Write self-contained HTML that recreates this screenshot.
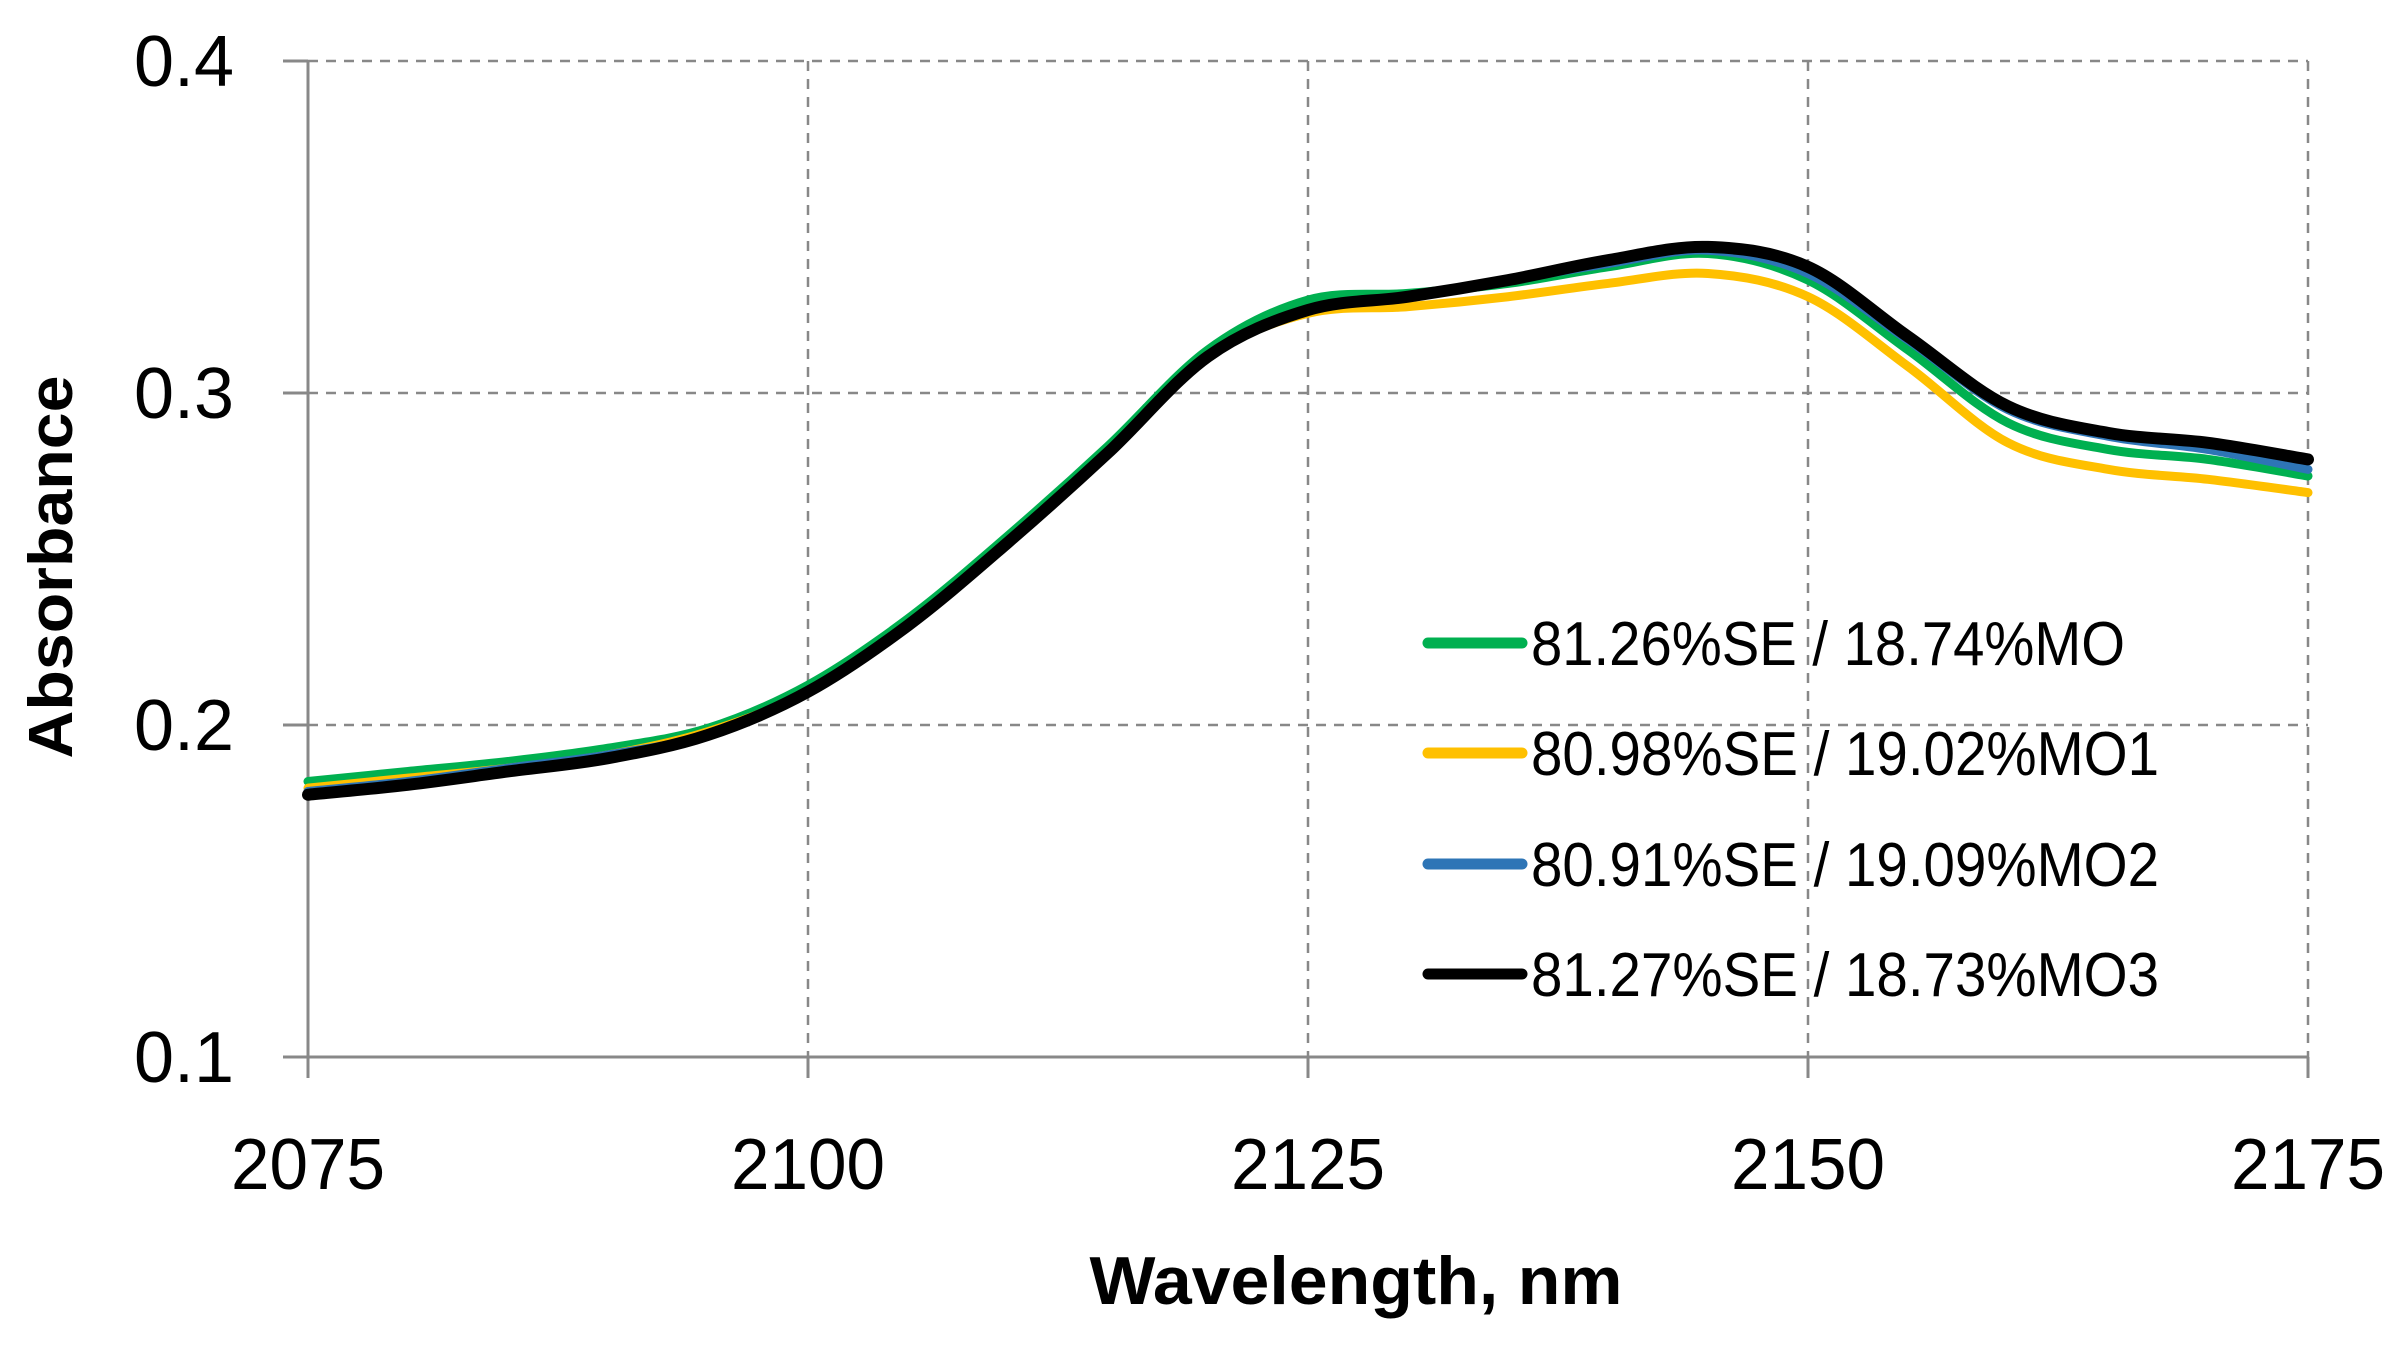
<!DOCTYPE html>
<html><head><meta charset="utf-8"><style>
html,body{margin:0;padding:0;background:#fff;}
svg{display:block;}
text{font-family:"Liberation Sans",sans-serif;fill:#000;}
</style></head><body>
<svg id="s" width="2401" height="1345" viewBox="0 0 2401 1345" xmlns="http://www.w3.org/2000/svg">
<rect width="2401" height="1345" fill="#fff"/>
<g stroke="#888" stroke-width="2.5" stroke-dasharray="10,8" fill="none">
<line x1="308" y1="61" x2="2308" y2="61"/>
<line x1="308" y1="393" x2="2308" y2="393"/>
<line x1="308" y1="725" x2="2308" y2="725"/>
<line x1="808" y1="61" x2="808" y2="1057"/>
<line x1="1308" y1="61" x2="1308" y2="1057"/>
<line x1="1808" y1="61" x2="1808" y2="1057"/>
<line x1="2308" y1="61" x2="2308" y2="1057"/>
</g>
<g stroke="#888" stroke-width="3" fill="none">
<line x1="308" y1="61" x2="308" y2="1078"/>
<line x1="283" y1="1057" x2="2308" y2="1057"/>
<line x1="283" y1="61" x2="308" y2="61"/>
<line x1="283" y1="393" x2="308" y2="393"/>
<line x1="283" y1="725" x2="308" y2="725"/>
<line x1="808" y1="1057" x2="808" y2="1078"/>
<line x1="1308" y1="1057" x2="1308" y2="1078"/>
<line x1="1808" y1="1057" x2="1808" y2="1078"/>
<line x1="2308" y1="1057" x2="2308" y2="1078"/>
</g>
<g font-size="72" text-anchor="end">
<text x="234" y="86" textLength="100" lengthAdjust="spacingAndGlyphs">0.4</text>
<text x="234" y="418" textLength="100" lengthAdjust="spacingAndGlyphs">0.3</text>
<text x="234" y="750" textLength="100" lengthAdjust="spacingAndGlyphs">0.2</text>
<text x="234" y="1082" textLength="100" lengthAdjust="spacingAndGlyphs">0.1</text>
</g>
<g font-size="72" text-anchor="middle">
<text x="308" y="1189" textLength="154" lengthAdjust="spacingAndGlyphs">2075</text>
<text x="808" y="1189" textLength="154" lengthAdjust="spacingAndGlyphs">2100</text>
<text x="1308" y="1189" textLength="154" lengthAdjust="spacingAndGlyphs">2125</text>
<text x="1808" y="1189" textLength="154" lengthAdjust="spacingAndGlyphs">2150</text>
<text x="2308" y="1189" textLength="154" lengthAdjust="spacingAndGlyphs">2175</text>
</g>
<text x="1356" y="1304" font-size="68" font-weight="bold" text-anchor="middle" textLength="533" lengthAdjust="spacingAndGlyphs">Wavelength, nm</text>
<text transform="translate(72,567) rotate(-90)" font-size="62" font-weight="bold" text-anchor="middle" textLength="383" lengthAdjust="spacingAndGlyphs">Absorbance</text>
<g id="curves" fill="none" stroke-linecap="round" stroke-linejoin="round"></g>
<g stroke-width="11" stroke-linecap="round">
<line x1="1428" y1="643" x2="1522" y2="643" stroke="#00b050"/>
<line x1="1428" y1="753" x2="1522" y2="753" stroke="#ffc000"/>
<line x1="1428" y1="864" x2="1522" y2="864" stroke="#2e75b6"/>
<line x1="1428" y1="974" x2="1522" y2="974" stroke="#000"/>
</g>
<g font-size="62">
<text x="1531" y="665" textLength="594" lengthAdjust="spacingAndGlyphs">81.26%SE / 18.74%MO</text>
<text x="1531" y="775" textLength="628" lengthAdjust="spacingAndGlyphs">80.98%SE / 19.02%MO1</text>
<text x="1531" y="886" textLength="628" lengthAdjust="spacingAndGlyphs">80.91%SE / 19.09%MO2</text>
<text x="1531" y="996" textLength="628" lengthAdjust="spacingAndGlyphs">81.27%SE / 18.73%MO3</text>
</g>
</svg>
<script>
function X(w){return 308+(w-2075)*20;}
function Y(v){return 1057-(v-0.1)*3320;}
function path(pts){
 var p=pts.map(function(a){return [X(a[0]),Y(a[1])];});
 var d="M"+p[0][0]+","+p[0][1];
 for(var i=0;i<p.length-1;i++){
  var p0=p[i-1]||p[i],p1=p[i],p2=p[i+1],p3=p[i+2]||p2;
  var c1x=p1[0]+(p2[0]-p0[0])/6,c1y=p1[1]+(p2[1]-p0[1])/6;
  var c2x=p2[0]-(p3[0]-p1[0])/6,c2y=p2[1]-(p3[1]-p1[1])/6;
  d+=" C"+c1x+","+c1y+" "+c2x+","+c2y+" "+p2[0]+","+p2[1];
 }
 return d;
}
var W=[2075,2080,2085,2090,2095,2100,2105,2110,2115,2120,2125,2130,2135,2140,2145,2150,2155,2160,2165,2170,2175];
var S=[
 ["#00b050",9,[0.183,0.186,0.189,0.193,0.199,0.212,0.232,0.257,0.284,0.313,0.328,0.330,0.333,0.338,0.342,0.334,0.313,0.291,0.283,0.280,0.275]],
 ["#ffc000",9,[0.181,0.184,0.187,0.191,0.198,0.210,0.230,0.255,0.282,0.311,0.324,0.326,0.329,0.333,0.336,0.329,0.308,0.285,0.277,0.274,0.270]],
 ["#2e75b6",9,[0.180,0.183,0.187,0.191,0.197,0.210,0.230,0.255,0.282,0.311,0.325,0.329,0.334,0.339,0.343,0.336,0.316,0.295,0.287,0.283,0.277]],
 ["#000000",12,[0.179,0.182,0.186,0.190,0.197,0.210,0.230,0.255,0.282,0.311,0.325,0.329,0.334,0.340,0.344,0.338,0.317,0.296,0.288,0.285,0.280]]
];
var g=document.getElementById("curves"),h="";
S.forEach(function(s){
 var pts=W.map(function(w,i){return [w,s[2][i]];});
 h+='<path d="'+path(pts)+'" stroke="'+s[0]+'" stroke-width="'+s[1]+'"/>';
});
g.innerHTML=h;
</script>
</body></html>
